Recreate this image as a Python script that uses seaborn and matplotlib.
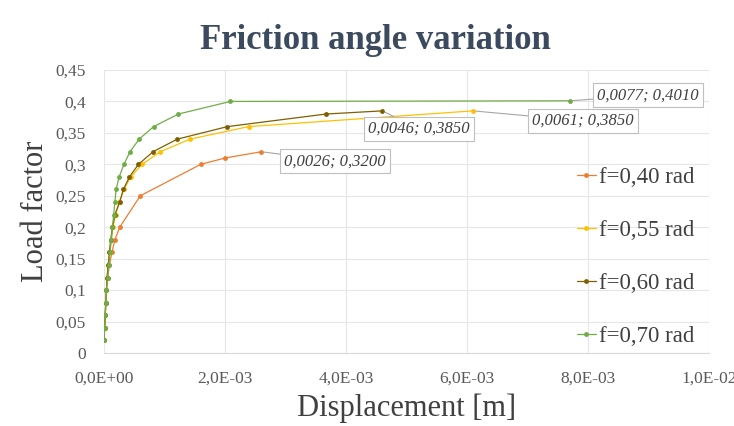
import pandas as pd
import seaborn as sns
import numpy as np
import matplotlib.pyplot as plt
from matplotlib.ticker import FuncFormatter, MultipleLocator

# data (displacement in m, load factor)
x_040 = [0.0, 0.00001, 0.00002, 0.00003, 0.00004, 0.00006, 0.00009, 0.00013, 0.00018, 0.00026,
         0.0006, 0.0016, 0.002, 0.0026]
y_040 = [0.02, 0.04, 0.06, 0.08, 0.10, 0.12, 0.14, 0.16, 0.18, 0.20, 0.25, 0.30, 0.31, 0.32]

x_055 = [0.0, 0.00001, 0.00002, 0.00003, 0.00004, 0.00005, 0.00007, 0.00009, 0.00012, 0.00015,
         0.00019, 0.00025, 0.00033, 0.00044, 0.00063, 0.00093, 0.00142, 0.00239, 0.0061]
y_055 = [0.02, 0.04, 0.06, 0.08, 0.10, 0.12, 0.14, 0.16, 0.18, 0.20,
         0.22, 0.24, 0.26, 0.28, 0.30, 0.32, 0.34, 0.36, 0.385]

x_060 = [0.0, 0.00001, 0.00002, 0.00003, 0.00004, 0.00005, 0.00007, 0.00009, 0.00011, 0.00014,
         0.00018, 0.00026, 0.00032, 0.00042, 0.00057, 0.00081, 0.00121, 0.00204, 0.00367, 0.0046]
y_060 = [0.02, 0.04, 0.06, 0.08, 0.10, 0.12, 0.14, 0.16, 0.18, 0.20,
         0.22, 0.24, 0.26, 0.28, 0.30, 0.32, 0.34, 0.36, 0.38, 0.385]

x_070 = [0.0, 0.00001, 0.00002, 0.00003, 0.00004, 0.00006, 0.00008, 0.0001, 0.00012, 0.00014,
         0.00016, 0.00018, 0.0002, 0.00025, 0.00033, 0.00043, 0.00058, 0.00082, 0.00123, 0.00209, 0.0077]
y_070 = [0.02, 0.04, 0.06, 0.08, 0.10, 0.12, 0.14, 0.16, 0.18, 0.20,
         0.22, 0.24, 0.26, 0.28, 0.30, 0.32, 0.34, 0.36, 0.38, 0.40, 0.401]

labels = ["f=0,40 rad", "f=0,55 rad", "f=0,60 rad", "f=0,70 rad"]
colors = ["#ED7D31", "#FFC000", "#7F6000", "#70AD47"]

xs = [x_040, x_055, x_060, x_070]
ys = [y_040, y_055, y_060, y_070]

sns.set_style("white")
plt.rcParams['font.family'] = ['Liberation Serif', 'DejaVu Serif']

fig = plt.figure(figsize=(7.34, 4.26), dpi=100)
ax = fig.add_axes([0.1417, 0.1714, 0.8243, 0.6643])

for xv, yv, lab, col in zip(xs, ys, labels, colors):
    df = pd.DataFrame({"x": xv, "y": yv})
    sns.lineplot(data=df, x="x", y="y", ax=ax, color=col, marker="o", markersize=3.5,
                 markeredgewidth=0, linewidth=0.9, label=lab, sort=False)

ax.set_xlim(0, 0.01)
ax.set_ylim(0, 0.45)
ax.xaxis.set_major_locator(MultipleLocator(0.002))
ax.yaxis.set_major_locator(MultipleLocator(0.05))


def xfmt(v, pos):
    s = "%.1E" % v
    return s.replace(".", ",")


def yfmt(v, pos):
    s = ("%.2f" % v).rstrip("0").rstrip(".")
    return s.replace(".", ",")


ax.xaxis.set_major_formatter(FuncFormatter(xfmt))
ax.yaxis.set_major_formatter(FuncFormatter(yfmt))
ax.grid(True, color="#E6E6E6", linewidth=0.8)
for side in ["top", "right", "left"]:
    ax.spines[side].set_visible(False)
ax.spines["bottom"].set_color("#D9D9D9")
ax.tick_params(axis="both", labelsize=12.5, colors="#595959", length=0)
ax.tick_params(axis="x", pad=13)
ax.tick_params(axis="y", pad=13)

ax.set_xlabel("Displacement [m]", fontsize=22, color="#404040", labelpad=5)
ax.set_ylabel("Load factor", fontsize=22, color="#404040", labelpad=4)
fig.text(0.512, 0.905, "Friction angle variation", fontsize=25, fontweight="bold",
         color="#3B4A5E", ha="center", va="center")

leg = ax.legend(loc="center left", bbox_to_anchor=(0.752, 0.34), frameon=False, fontsize=16.5,
                labelspacing=1.4, handlelength=0.8, handletextpad=0.15, borderpad=0.3)
for t in leg.get_texts():
    t.set_color("#404040")

bbox = dict(boxstyle="square,pad=0.25", fc="white", ec="#BFBFBF", lw=0.8)
notes = [
    ("0,0077; 0,4010", (0.0077, 0.401), (0.00899, 0.410)),
    ("0,0046; 0,3850", (0.0046, 0.385), (0.00521, 0.356)),
    ("0,0061; 0,3850", (0.0061, 0.385), (0.00792, 0.369)),
    ("0,0026; 0,3200", (0.0026, 0.320), (0.00382, 0.305)),
]
for txt, xy, xyt in notes:
    ax.annotate(txt, xy=xy, xytext=xyt, ha="center", va="center", fontsize=12,
                style="italic", color="#404040", bbox=bbox,
                arrowprops=dict(arrowstyle="-", color="#A6A6A6", lw=0.8, shrinkA=0, shrinkB=2))

fig.savefig("out.png", dpi=100)
